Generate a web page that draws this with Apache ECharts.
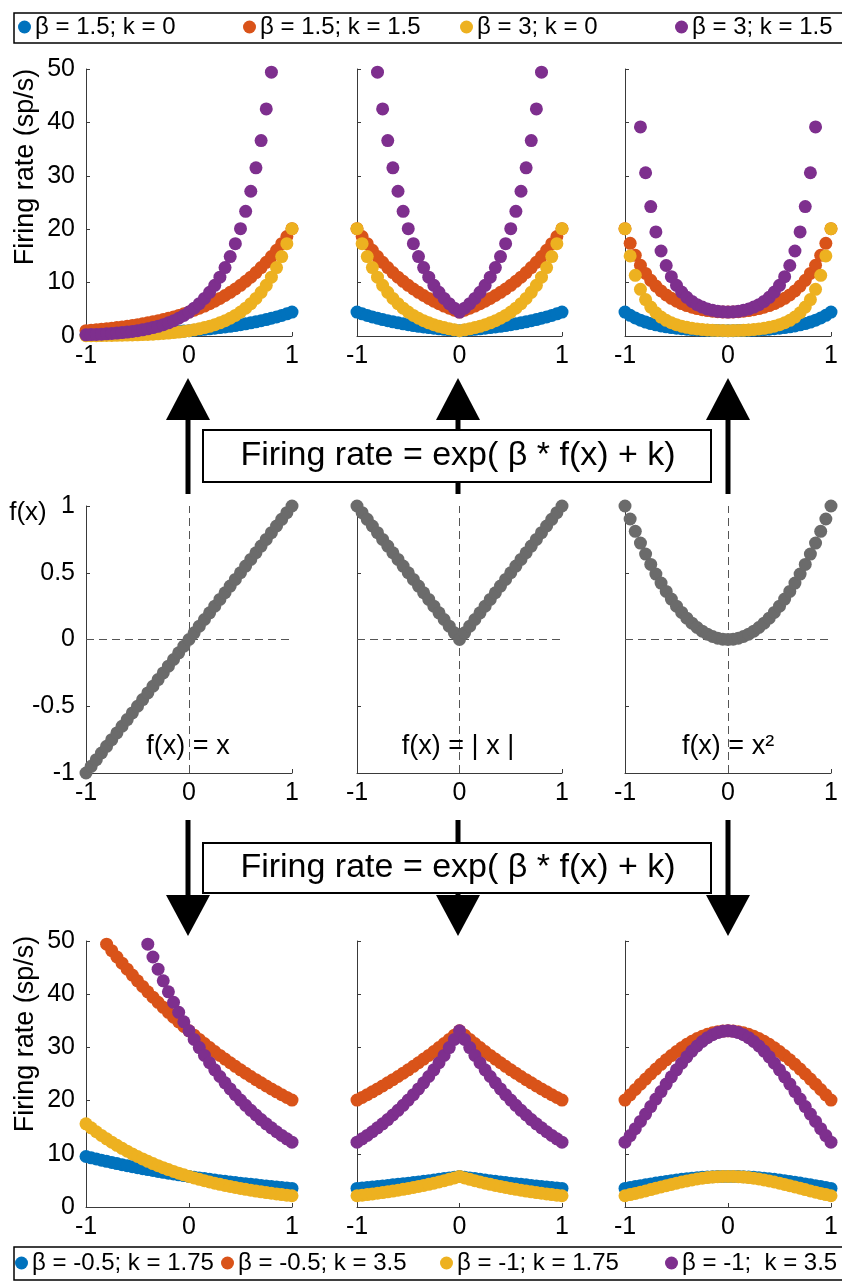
<!DOCTYPE html>
<html><head><meta charset="utf-8">
<script src="https://cdn.jsdelivr.net/npm/echarts@6/dist/echarts.min.js"></script>
<style>html,body{margin:0;padding:0;background:#fff}#c{width:842px;height:1281px}</style>
</head><body><div id="c"></div><script>
// ---------------- data ----------------
const X = [-1,-0.95,-0.9,-0.85,-0.8,-0.75,-0.7,-0.65,-0.6,-0.55,-0.5,-0.45,-0.4,-0.35,-0.3,-0.25,-0.2,-0.15,-0.1,-0.05,0,0.05,0.1,0.15,0.2,0.25,0.3,0.35,0.4,0.45,0.5,0.55,0.6,0.65,0.7,0.75,0.8,0.85,0.9,0.95,1];
const xTicks = [-1, 0, 1];
const topNames = ['β = 1.5; k = 0','β = 1.5; k = 1.5','β = 3; k = 0','β = 3; k = 1.5'];
const bottomNames = ['β = -0.5; k = 1.75','β = -0.5; k = 3.5','β = -1; k = 1.75','β = -1;  k = 3.5'];
const funcLabels = ['f(x) = x','f(x) = | x |','f(x) = x²'];
const formulaText = 'Firing rate = exp( β * f(x) + k)';

// middle row: f(x)
const fLin = [-1,-0.95,-0.9,-0.85,-0.8,-0.75,-0.7,-0.65,-0.6,-0.55,-0.5,-0.45,-0.4,-0.35,-0.3,-0.25,-0.2,-0.15,-0.1,-0.05,0,0.05,0.1,0.15,0.2,0.25,0.3,0.35,0.4,0.45,0.5,0.55,0.6,0.65,0.7,0.75,0.8,0.85,0.9,0.95,1];
const fAbs = [1,0.95,0.9,0.85,0.8,0.75,0.7,0.65,0.6,0.55,0.5,0.45,0.4,0.35,0.3,0.25,0.2,0.15,0.1,0.05,0,0.05,0.1,0.15,0.2,0.25,0.3,0.35,0.4,0.45,0.5,0.55,0.6,0.65,0.7,0.75,0.8,0.85,0.9,0.95,1];
const fSq = [1,0.9025,0.81,0.7225,0.64,0.5625,0.49,0.4225,0.36,0.3025,0.25,0.2025,0.16,0.1225,0.09,0.0625,0.04,0.0225,0.01,0.0025,0,0.0025,0.01,0.0225,0.04,0.0625,0.09,0.1225,0.16,0.2025,0.25,0.3025,0.36,0.4225,0.49,0.5625,0.64,0.7225,0.81,0.9025,1];

// top row, f(x) = x
const topLinBlue = [0.22,0.24,0.26,0.28,0.30,0.32,0.35,0.38,0.41,0.44,0.47,0.51,0.55,0.59,0.64,0.69,0.74,0.80,0.86,0.93,1.00,1.08,1.16,1.25,1.35,1.46,1.57,1.69,1.82,1.96,2.12,2.28,2.46,2.65,2.86,3.08,3.32,3.58,3.86,4.16,4.48];
const topLinOrange = [1.00,1.08,1.16,1.25,1.35,1.46,1.57,1.69,1.82,1.96,2.12,2.28,2.46,2.65,2.86,3.08,3.32,3.58,3.86,4.16,4.48,4.83,5.21,5.61,6.05,6.52,7.03,7.58,8.17,8.80,9.49,10.23,11.02,11.88,12.81,13.80,14.88,16.04,17.29,18.63,20.09];
const topLinYellow = [0.05,0.06,0.07,0.08,0.09,0.11,0.12,0.14,0.17,0.19,0.22,0.26,0.30,0.35,0.41,0.47,0.55,0.64,0.74,0.86,1.00,1.16,1.35,1.57,1.82,2.12,2.46,2.86,3.32,3.86,4.48,5.21,6.05,7.03,8.17,9.49,11.02,12.81,14.88,17.29,20.09];
const topLinPurple = [0.22,0.26,0.30,0.35,0.41,0.47,0.55,0.64,0.74,0.86,1.00,1.16,1.35,1.57,1.82,2.12,2.46,2.86,3.32,3.86,4.48,5.21,6.05,7.03,8.17,9.49,11.02,12.81,14.88,17.29,20.09,23.34,27.11,31.50,36.60,42.52,49.40,null,null,null,null];

// top row, f(x) = |x|
const topAbsBlue = [4.48,4.16,3.86,3.58,3.32,3.08,2.86,2.65,2.46,2.28,2.12,1.96,1.82,1.69,1.57,1.46,1.35,1.25,1.16,1.08,1.00,1.08,1.16,1.25,1.35,1.46,1.57,1.69,1.82,1.96,2.12,2.28,2.46,2.65,2.86,3.08,3.32,3.58,3.86,4.16,4.48];
const topAbsOrange = [20.09,18.63,17.29,16.04,14.88,13.80,12.81,11.88,11.02,10.23,9.49,8.80,8.17,7.58,7.03,6.52,6.05,5.61,5.21,4.83,4.48,4.83,5.21,5.61,6.05,6.52,7.03,7.58,8.17,8.80,9.49,10.23,11.02,11.88,12.81,13.80,14.88,16.04,17.29,18.63,20.09];
const topAbsYellow = [20.09,17.29,14.88,12.81,11.02,9.49,8.17,7.03,6.05,5.21,4.48,3.86,3.32,2.86,2.46,2.12,1.82,1.57,1.35,1.16,1.00,1.16,1.35,1.57,1.82,2.12,2.46,2.86,3.32,3.86,4.48,5.21,6.05,7.03,8.17,9.49,11.02,12.81,14.88,17.29,20.09];
const topAbsPurple = [null,null,null,null,49.40,42.52,36.60,31.50,27.11,23.34,20.09,17.29,14.88,12.81,11.02,9.49,8.17,7.03,6.05,5.21,4.48,5.21,6.05,7.03,8.17,9.49,11.02,12.81,14.88,17.29,20.09,23.34,27.11,31.50,36.60,42.52,49.40,null,null,null,null];

// top row, f(x) = x^2
const topSqBlue = [4.48,3.87,3.37,2.96,2.61,2.33,2.09,1.88,1.72,1.57,1.46,1.36,1.27,1.20,1.14,1.10,1.06,1.03,1.02,1.00,1.00,1.00,1.02,1.03,1.06,1.10,1.14,1.20,1.27,1.36,1.46,1.57,1.72,1.88,2.09,2.33,2.61,2.96,3.37,3.87,4.48];
const topSqOrange = [20.09,17.35,15.11,13.25,11.71,10.42,9.35,8.45,7.69,7.06,6.52,6.07,5.70,5.39,5.13,4.92,4.76,4.64,4.55,4.50,4.48,4.50,4.55,4.64,4.76,4.92,5.13,5.39,5.70,6.07,6.52,7.06,7.69,8.45,9.35,10.42,11.71,13.25,15.11,17.35,20.09];
const topSqYellow = [20.09,14.99,11.36,8.74,6.82,5.41,4.35,3.55,2.94,2.48,2.12,1.84,1.62,1.44,1.31,1.21,1.13,1.07,1.03,1.01,1.00,1.01,1.03,1.07,1.13,1.21,1.31,1.44,1.62,1.84,2.12,2.48,2.94,3.55,4.35,5.41,6.82,8.74,11.36,14.99,20.09];
const topSqPurple = [null,null,null,39.15,30.57,24.23,19.49,15.92,13.20,11.11,9.49,8.23,7.24,6.47,5.87,5.41,5.05,4.80,4.62,4.52,4.48,4.52,4.62,4.80,5.05,5.41,5.87,6.47,7.24,8.23,9.49,11.11,13.20,15.92,19.49,24.23,30.57,39.15,null,null,null];

// bottom row, f(x) = x
const botLinBlue = [9.49,9.25,9.03,8.80,8.58,8.37,8.17,7.96,7.77,7.58,7.39,7.21,7.03,6.86,6.69,6.52,6.36,6.20,6.05,5.90,5.75,5.61,5.47,5.34,5.21,5.08,4.95,4.83,4.71,4.60,4.48,4.37,4.26,4.16,4.06,3.96,3.86,3.76,3.67,3.58,3.49];
const botLinOrange = [null,null,null,null,49.40,48.18,46.99,45.83,44.70,43.60,42.52,41.47,40.45,39.45,38.47,37.53,36.60,35.69,34.81,33.95,33.12,32.30,31.50,30.72,29.96,29.22,28.50,27.80,27.11,26.44,25.79,25.15,24.53,23.93,23.34,22.76,22.20,21.65,21.12,20.59,20.09];
const botLinYellow = [15.64,14.88,14.15,13.46,12.81,12.18,11.59,11.02,10.49,9.97,9.49,9.03,8.58,8.17,7.77,7.39,7.03,6.69,6.36,6.05,5.75,5.47,5.21,4.95,4.71,4.48,4.26,4.06,3.86,3.67,3.49,3.32,3.16,3.00,2.86,2.72,2.59,2.46,2.34,2.23,2.12];
const botLinPurple = [null,null,null,null,null,null,null,null,null,null,null,null,49.40,46.99,44.70,42.52,40.45,38.47,36.60,34.81,33.12,31.50,29.96,28.50,27.11,25.79,24.53,23.34,22.20,21.12,20.09,19.11,18.17,17.29,16.44,15.64,14.88,14.15,13.46,12.81,12.18];

// bottom row, f(x) = |x|
const botAbsBlue = [3.49,3.58,3.67,3.76,3.86,3.96,4.06,4.16,4.26,4.37,4.48,4.60,4.71,4.83,4.95,5.08,5.21,5.34,5.47,5.61,5.75,5.61,5.47,5.34,5.21,5.08,4.95,4.83,4.71,4.60,4.48,4.37,4.26,4.16,4.06,3.96,3.86,3.76,3.67,3.58,3.49];
const botAbsOrange = [20.09,20.59,21.12,21.65,22.20,22.76,23.34,23.93,24.53,25.15,25.79,26.44,27.11,27.80,28.50,29.22,29.96,30.72,31.50,32.30,33.12,32.30,31.50,30.72,29.96,29.22,28.50,27.80,27.11,26.44,25.79,25.15,24.53,23.93,23.34,22.76,22.20,21.65,21.12,20.59,20.09];
const botAbsYellow = [2.12,2.23,2.34,2.46,2.59,2.72,2.86,3.00,3.16,3.32,3.49,3.67,3.86,4.06,4.26,4.48,4.71,4.95,5.21,5.47,5.75,5.47,5.21,4.95,4.71,4.48,4.26,4.06,3.86,3.67,3.49,3.32,3.16,3.00,2.86,2.72,2.59,2.46,2.34,2.23,2.12];
const botAbsPurple = [12.18,12.81,13.46,14.15,14.88,15.64,16.44,17.29,18.17,19.11,20.09,21.12,22.20,23.34,24.53,25.79,27.11,28.50,29.96,31.50,33.12,31.50,29.96,28.50,27.11,25.79,24.53,23.34,22.20,21.12,20.09,19.11,18.17,17.29,16.44,15.64,14.88,14.15,13.46,12.81,12.18];

// bottom row, f(x) = x^2
const botSqBlue = [3.49,3.67,3.84,4.01,4.18,4.34,4.50,4.66,4.81,4.95,5.08,5.20,5.31,5.41,5.50,5.58,5.64,5.69,5.73,5.75,5.75,5.75,5.73,5.69,5.64,5.58,5.50,5.41,5.31,5.20,5.08,4.95,4.81,4.66,4.50,4.34,4.18,4.01,3.84,3.67,3.49];
const botSqOrange = [20.09,21.09,22.09,23.08,24.05,25.00,25.92,26.81,27.66,28.47,29.22,29.93,30.57,31.15,31.66,32.10,32.46,32.74,32.95,33.07,33.12,33.07,32.95,32.74,32.46,32.10,31.66,31.15,30.57,29.93,29.22,28.47,27.66,26.81,25.92,25.00,24.05,23.08,22.09,21.09,20.09];
const botSqYellow = [2.12,2.33,2.56,2.79,3.03,3.28,3.53,3.77,4.01,4.25,4.48,4.70,4.90,5.09,5.26,5.41,5.53,5.63,5.70,5.74,5.75,5.74,5.70,5.63,5.53,5.41,5.26,5.09,4.90,4.70,4.48,4.25,4.01,3.77,3.53,3.28,3.03,2.79,2.56,2.33,2.12];
const botSqPurple = [12.18,13.43,14.73,16.08,17.46,18.87,20.29,21.70,23.10,24.47,25.79,27.04,28.22,29.30,30.26,31.11,31.82,32.38,32.79,33.03,33.12,33.03,32.79,32.38,31.82,31.11,30.26,29.30,28.22,27.04,25.79,24.47,23.10,21.70,20.29,18.87,17.46,16.08,14.73,13.43,12.18];

// ---------------- styling ----------------
const COLORS = ['#0072BD','#D95319','#EDB120','#7E2F8E'];
const GRAY = '#6b6b6b';
const FONT = 'Liberation Sans, Arial, Helvetica, sans-serif';
const AXIS_COLOR = '#3a3a3a';
const SYM = 13;
const COL_LEFT = [86, 357, 625];
const COL_W = [206, 205, 206];
const ROW_TOP = [69, 506, 941];
const ROW_H = [267, 267, 266];

const rows = [
  {names: topNames, sets: [[topLinBlue,topLinOrange,topLinYellow,topLinPurple],[topAbsBlue,topAbsOrange,topAbsYellow,topAbsPurple],[topSqBlue,topSqOrange,topSqYellow,topSqPurple]]},
  {names: null, sets: [[fLin],[fAbs],[fSq]]},
  {names: bottomNames, sets: [[botLinBlue,botLinOrange,botLinYellow,botLinPurple],[botAbsBlue,botAbsOrange,botAbsYellow,botAbsPurple],[botSqBlue,botSqOrange,botSqYellow,botSqPurple]]}
];

function pairs(vals){
  const out = [];
  for (let i = 0; i < X.length; i++) if (vals[i] !== null) out.push([X[i], vals[i]]);
  return out;
}

const grid = [], xAxis = [], yAxis = [], series = [];
for (let r = 0; r < 3; r++) {
  for (let c = 0; c < 3; c++) {
    const g = r * 3 + c;
    grid.push({left: COL_LEFT[c], top: ROW_TOP[r], width: COL_W[c], height: ROW_H[r], containLabel: false});
    xAxis.push({
      type: 'value', gridIndex: g, min: -1, max: 1, interval: 1,
      axisLine: {show: true, onZero: false, lineStyle: {color: AXIS_COLOR, width: 1}},
      axisTick: {show: true, inside: true, length: 4, lineStyle: {color: AXIS_COLOR}},
      axisLabel: {show: true, fontSize: 25, color: '#000', fontFamily: FONT, margin: 8},
      splitLine: {show: false}
    });
    const mid = (r === 1);
    yAxis.push({
      type: 'value', gridIndex: g,
      min: mid ? -1 : 0, max: mid ? 1 : 50, interval: mid ? 0.5 : 10,
      axisLine: {show: true, onZero: false, lineStyle: {color: AXIS_COLOR, width: 1}},
      axisTick: {show: true, inside: true, length: 4, lineStyle: {color: AXIS_COLOR}},
      axisLabel: {show: c === 0, fontSize: 25, color: '#000', fontFamily: FONT, margin: 11},
      splitLine: {show: false}
    });
    if (mid) {
      series.push({
        type: 'scatter', xAxisIndex: g, yAxisIndex: g, data: [], silent: true,
        markLine: {symbol: 'none', silent: true, animation: false, label: {show: false},
          lineStyle: {type: [8, 5], color: '#555', width: 1},
          data: [{xAxis: 0}, {yAxis: 0}]}
      });
      series.push({
        type: 'scatter', name: 'f(x)', xAxisIndex: g, yAxisIndex: g, z: 10, clip: false,
        symbolSize: SYM, itemStyle: {color: GRAY, opacity: 1},
        data: pairs(rows[r].sets[c][0])
      });
    } else {
      rows[r].sets[c].forEach((vals, k) => {
        series.push({
          type: 'scatter', name: rows[r].names[k], xAxisIndex: g, yAxisIndex: g, z: 2 + k, clip: false,
          symbolSize: SYM, itemStyle: {color: COLORS[k], opacity: 1},
          data: pairs(vals)
        });
      });
    }
  }
}

function legendAt(name, left, top){
  return {data: [name], left: left, top: top, orient: 'horizontal', padding: 0,
    icon: 'circle', itemWidth: 13, itemHeight: 13, itemGap: 0,
    textStyle: {fontSize: 24, color: '#000', fontFamily: FONT, padding: [0,0,0,-1]},
    selectedMode: false};
}
const topLegendX = [18, 243, 460, 675];
const botLegendX = [15, 221, 440, 665];
const legend = [];
topNames.forEach((n, i) => legend.push(legendAt(n, topLegendX[i], 15)));
bottomNames.forEach((n, i) => legend.push(legendAt(n, botLegendX[i], 1251)));

function txt(text, x, y, size, rot){
  return {type: 'text', x: x, y: y, rotation: rot || 0, z: 20,
    style: {text: text, fill: '#000', fontSize: size, fontFamily: FONT,
      align: 'center', verticalAlign: 'middle', textAlign: 'center', textVerticalAlign: 'middle'}};
}
const graphics = [];
// legend boxes
graphics.push({type: 'rect', z: 19, shape: {x: 14, y: 13, width: 840, height: 30}, style: {fill: 'none', stroke: '#000', lineWidth: 1.5}});
graphics.push({type: 'rect', z: 19, shape: {x: 14, y: 1247, width: 840, height: 33}, style: {fill: 'none', stroke: '#000', lineWidth: 1.5}});
// y-axis titles
graphics.push(txt('Firing rate (sp/s)', 26, 167, 27, Math.PI / 2));
graphics.push(txt('Firing rate (sp/s)', 26, 1034, 27, Math.PI / 2));
graphics.push(txt('f(x)', 28, 513, 26, 0));
// function labels
const arrowX = [188, 458, 728];
funcLabels.forEach((t, i) => graphics.push(txt(t, arrowX[i], 747, 27, 0)));
// arrows
arrowX.forEach(ax => {
  graphics.push({type: 'rect', z: 15, shape: {x: ax - 2.5, y: 416, width: 5, height: 78}, style: {fill: '#000'}});
  graphics.push({type: 'polygon', z: 15, shape: {points: [[ax - 22, 420], [ax + 22, 420], [ax, 378]]}, style: {fill: '#000'}});
  graphics.push({type: 'rect', z: 15, shape: {x: ax - 2.5, y: 820, width: 5, height: 78}, style: {fill: '#000'}});
  graphics.push({type: 'polygon', z: 15, shape: {points: [[ax - 22, 895], [ax + 22, 895], [ax, 936]]}, style: {fill: '#000'}});
});
// formula boxes
graphics.push({type: 'rect', z: 16, shape: {x: 203, y: 430, width: 508, height: 52}, style: {fill: '#fff', stroke: '#000', lineWidth: 2}});
graphics.push(txt(formulaText, 458, 456, 34, 0));
graphics.push({type: 'rect', z: 16, shape: {x: 203, y: 843, width: 508, height: 50}, style: {fill: '#fff', stroke: '#000', lineWidth: 2}});
graphics.push(txt(formulaText, 458, 868, 34, 0));

const chart = echarts.init(document.getElementById('c'), null, {renderer: 'canvas'});
chart.setOption({
  animation: false,
  backgroundColor: '#fff',
  textStyle: {fontFamily: FONT},
  grid: grid, xAxis: xAxis, yAxis: yAxis, series: series,
  legend: legend,
  graphic: {elements: graphics}
});
</script></body></html>
